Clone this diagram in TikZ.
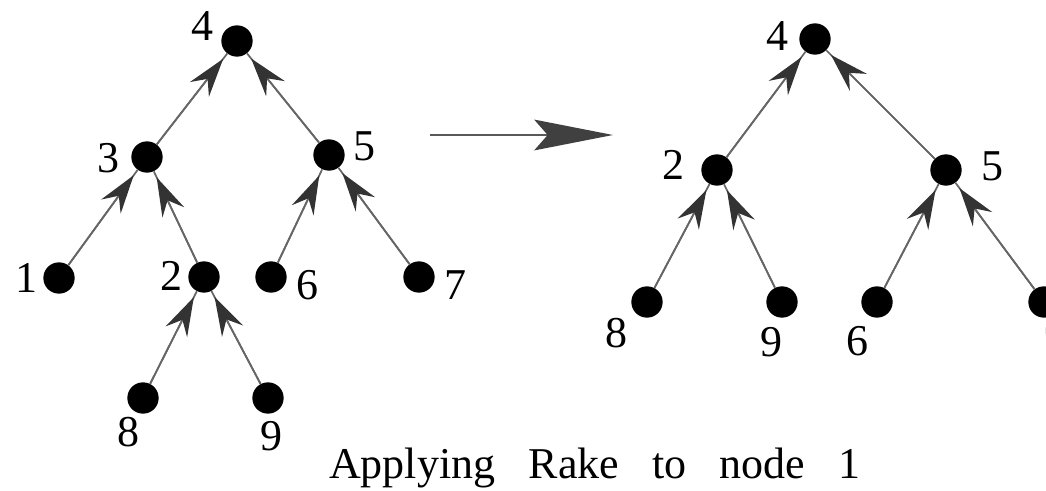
\documentclass[tikz,border=0pt]{standalone}
\usepackage{fontspec}
\setmainfont{Liberation Serif}
\usetikzlibrary{arrows.meta}
\begin{document}
\begin{tikzpicture}[x=0.75pt,y=-0.75pt,
  dot/.style={circle,fill=black,draw=none,minimum size=23.5pt,inner sep=0pt},
  lbl/.style={inner sep=0pt,font=\fontsize{33}{36}\selectfont},
  edge/.style={draw=black!60,line width=1.3pt,
    -{Stealth[length=29pt,width=18pt,inset=10pt,color=black!80]},shorten >=5pt,
    preaction={draw=black!60,line width=1.3pt,-,shorten >=0pt}},
  bigarrow/.style={draw=black!65,line width=2pt,
    -{Stealth[length=59pt,width=23pt,inset=10pt,color=black!75]}}]
\useasboundingbox (0,0) rectangle (1046,491);
\clip (0,0) rectangle (1046,491);
% left tree
\node[dot] (L4) at (237,41) {};
\node[dot] (L3) at (147,157) {};
\node[dot] (L5) at (329,155) {};
\node[dot] (L1) at (59,278) {};
\node[dot] (L2) at (204,277) {};
\node[dot] (L6) at (271,277) {};
\node[dot] (L7) at (419,277) {};
\node[dot] (L8) at (143,398) {};
\node[dot] (L9) at (268,398) {};
\node[lbl] (tL4) at (202,26) {4};
\node[lbl] (tL3) at (108,158) {3};
\node[lbl] (tL5) at (364,146) {5};
\node[lbl] (tL1) at (26,278) {1};
\node[lbl] (tL2) at (171,276) {2};
\node[lbl] (tL6) at (307,285) {6};
\node[lbl] (tL7) at (455,285) {7};
\node[lbl] (tL8) at (128,432) {8};
\node[lbl] (tL9) at (271,436) {9};
\draw[edge] (L3) -- (L4);
\draw[edge] (L5) -- (L4);
\draw[edge] (L1) -- (L3);
\draw[edge] (L2) -- (L3);
\draw[edge] (L8) -- (L2);
\draw[edge] (L9) -- (L2);
\draw[edge] (L6) -- (L5);
\draw[edge] (L7) -- (L5);
% transformation arrow
\coordinate (aL) at (430,135);
\coordinate (aR) at (613,135);
\draw[bigarrow] (aL) -- (aR);
% right tree
\node[dot] (R4) at (815,39) {};
\node[dot] (R2) at (717,170) {};
\node[dot] (R5) at (946,170) {};
\node[dot] (R8) at (647,302) {};
\node[dot] (R9) at (782,302) {};
\node[dot] (R6) at (877,302) {};
\node[dot] (R7) at (1044,302) {};
\node[lbl] (tR4) at (777,36) {4};
\node[lbl] (tR2) at (673,165) {2};
\node[lbl] (tR5) at (992,166) {5};
\node[lbl] (tR8) at (616,333) {8};
\node[lbl] (tR9) at (771,342) {9};
\node[lbl] (tR6) at (857,341) {6};
\node[lbl] (tR7) at (1054,342) {7};
\draw[edge] (R2) -- (R4);
\draw[edge] (R5) -- (R4);
\draw[edge] (R8) -- (R2);
\draw[edge] (R9) -- (R2);
\draw[edge] (R6) -- (R5);
\draw[edge] (R7) -- (R5);
% caption
\node[lbl,anchor=base] (cap) at (595,479)
  {Applying\hspace{25pt}Rake\hspace{25pt}to\hspace{25pt}node\hspace{25pt}1};
\end{tikzpicture}
\end{document}
